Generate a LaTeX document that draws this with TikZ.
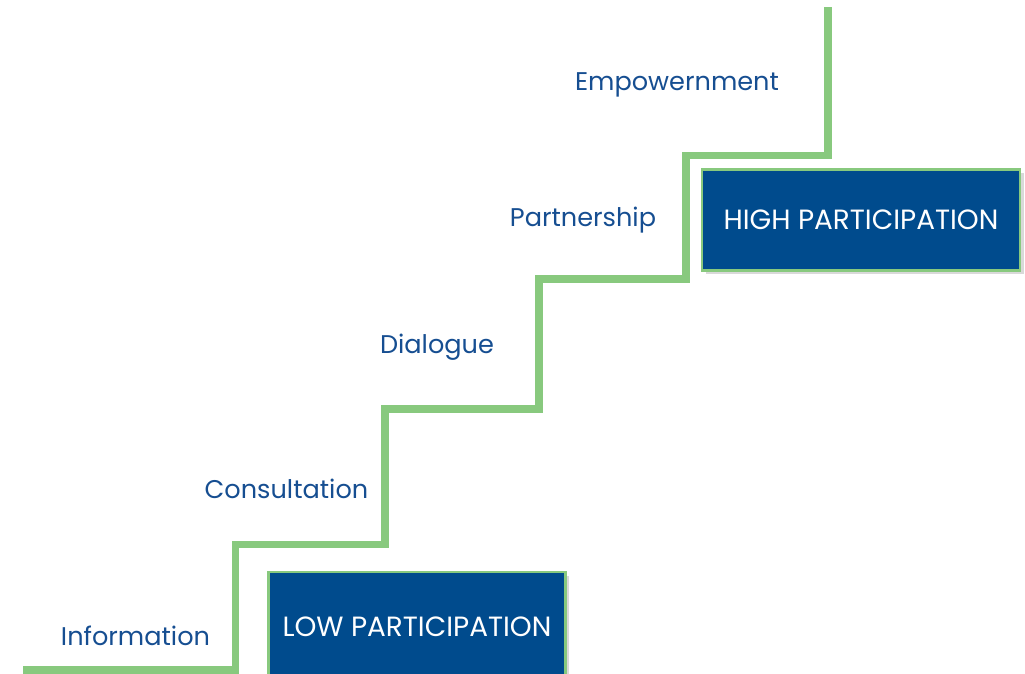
\documentclass[tikz,border=0pt]{standalone}
\usepackage{fontspec}
\setmainfont{Poppins}
\usetikzlibrary{shadows}
\definecolor{stairgreen}{RGB}{136,201,126}
\definecolor{boxblue}{RGB}{0,75,141}
\definecolor{labelblue}{RGB}{22,78,145}
\tikzset{
  steplabel/.style={text=labelblue, font=\fontsize{18.2}{21}\selectfont, inner sep=0pt, anchor=base},
  levelbox/.style={fill=boxblue, draw=stairgreen, line width=1.6pt, text=white,
    font=\fontsize{19.8}{23}\selectfont, inner sep=0pt,
    drop shadow={shadow xshift=2.5pt, shadow yshift=-2.5pt, opacity=0.25, fill=black!60}}
}
\begin{document}
\begin{tikzpicture}[x=0.025cm, y=-0.025cm]
    \useasboundingbox (0,0) rectangle (1025,673);
    % boxes
    \node [levelbox, minimum width=297*0.025cm, minimum height=110*0.025cm] (low) at (417,627) {LOW PARTICIPATION};
    \node [levelbox, minimum width=318*0.025cm, minimum height=101*0.025cm] (high) at (861,220) {HIGH PARTICIPATION};
    % stairs
    \draw [stairgreen, line width=5.5pt] (23,670) -- (235.5,670) -- (235.5,544.5) -- (385,544.5)
        -- (385,409) -- (539,409) -- (539,279) -- (686,279) -- (686,155.5) -- (828,155.5) -- (828,7);
    % steps
    \node [steplabel] (info) at (135.5,645) {Information};
    \node [steplabel] (cons) at (286.5,498) {Consultation};
    \node [steplabel] (dial) at (437,353.3) {Dialogue};
    \node [steplabel] (part) at (583,226) {Partnership};
    \node [steplabel] (empo) at (677,90) {Empowernment};
\end{tikzpicture}
\end{document}
